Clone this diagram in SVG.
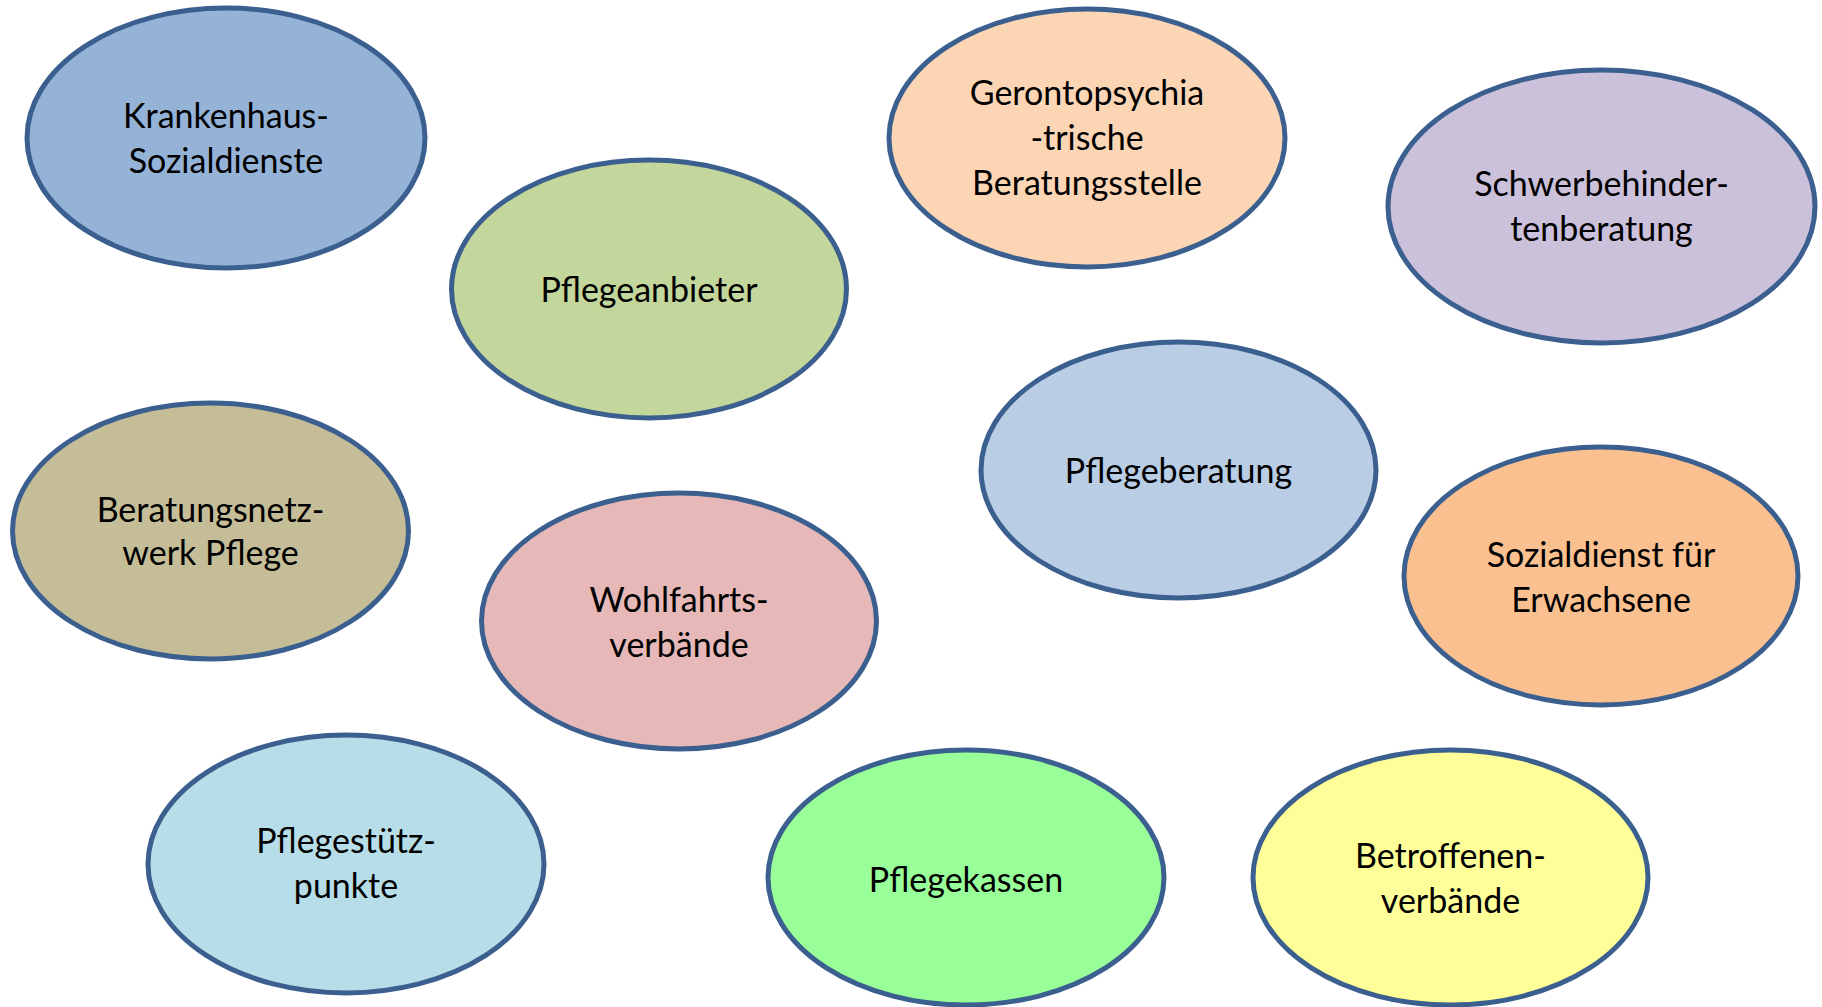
<svg xmlns="http://www.w3.org/2000/svg" width="1822" height="1007" viewBox="0 0 1822 1007">
<style>
.n{stroke:#3B5F8E;stroke-width:5}
.t{font-family:Lato,"Liberation Sans",sans-serif;font-size:34px;fill:#000;text-anchor:middle}
</style>
<rect width="1822" height="1007" fill="#fff"/>
<g id="connectors"></g>
<g id="n-krankenhaus"><ellipse class="n" cx="226" cy="138" rx="199" ry="130" fill="#95B3D7"/><text class="t" x="226" y="128">Krankenhaus-</text><text class="t" x="226" y="173">Sozialdienste</text></g>
<g id="n-pflegeanbieter"><ellipse class="n" cx="649" cy="289" rx="197.5" ry="129" fill="#C3D69B"/><text class="t" x="649" y="302">Pflegeanbieter</text></g>
<g id="n-geronto"><ellipse class="n" cx="1087" cy="138" rx="198" ry="129" fill="#FCD5B5"/><text class="t" x="1087" y="105">Gerontopsychia</text><text class="t" x="1087" y="150">-trische</text><text class="t" x="1087" y="195">Beratungsstelle</text></g>
<g id="n-schwerbehinderten"><ellipse class="n" cx="1601.5" cy="206.5" rx="213.5" ry="136.5" fill="#CCC1DA"/><text class="t" x="1601.5" y="196">Schwerbehinder-</text><text class="t" x="1601.5" y="241">tenberatung</text></g>
<g id="n-pflegeberatung"><ellipse class="n" cx="1178.5" cy="470" rx="197.5" ry="128" fill="#B9CDE5"/><text class="t" x="1178.5" y="483">Pflegeberatung</text></g>
<g id="n-beratungsnetzwerk"><ellipse class="n" cx="210.5" cy="531" rx="198" ry="128" fill="#C4BD97"/><text class="t" x="210.5" y="522">Beratungsnetz-</text><text class="t" x="210.5" y="565">werk Pflege</text></g>
<g id="n-wohlfahrt"><ellipse class="n" cx="679" cy="621" rx="197.5" ry="128" fill="#E6B9B8"/><text class="t" x="679" y="612">Wohlfahrts-</text><text class="t" x="679" y="657">verbände</text></g>
<g id="n-sozialdienst"><ellipse class="n" cx="1601" cy="576" rx="197" ry="129" fill="#FAC090"/><text class="t" x="1601" y="567">Sozialdienst für</text><text class="t" x="1601" y="612">Erwachsene</text></g>
<g id="n-pflegestuetz"><ellipse class="n" cx="346" cy="864" rx="198" ry="129" fill="#B7DEE8"/><text class="t" x="346" y="853">Pflegestütz-</text><text class="t" x="346" y="898">punkte</text></g>
<g id="n-pflegekassen"><ellipse class="n" cx="966" cy="877.5" rx="198" ry="127.5" fill="#99FF99"/><text class="t" x="966" y="892">Pflegekassen</text></g>
<g id="n-betroffenen"><ellipse class="n" cx="1450.5" cy="877.5" rx="197.5" ry="127.5" fill="#FFFF99"/><text class="t" x="1450.5" y="868">Betroffenen-</text><text class="t" x="1450.5" y="913">verbände</text></g>
</svg>
